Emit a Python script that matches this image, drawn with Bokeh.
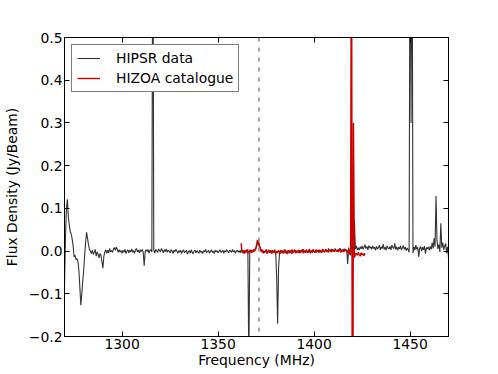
import numpy as np
from bokeh.plotting import figure
from bokeh.models import (Range1d, LinearAxis, Span, Legend, LegendItem,
                          CustomJSTickFormatter, FixedTicker, ColumnDataSource)
from bokeh.embed import file_html
from bokeh.resources import INLINE

# ---------------- data ----------------
x_ticks = [1300, 1350, 1400, 1450]
y_ticks = [-0.2, -0.1, 0.0, 0.1, 0.2, 0.3, 0.4, 0.5]

# HIPSR spectrum, sampled every 0.5 MHz from 1270.0 MHz, values in mJy/beam
hipsr_start_mhz = 1270.0
hipsr_step_mhz = 0.5
hipsr_mjy = [
    -80, 30, 100, 121, 80, 60, 46, 40, 28, 12,          # 1270.0
    -14, -10, -20, -18, -24, -45, -85, -127, -100, -70,  # 1275.0
    -45, -10, 20, 44, 30, 15, 4, 0, -6, 2,               # 1280.0
    -8, -3, 4, -12, -2, -8, -16, -6, -10, -25,           # 1285.0
    -40, -12, -2, 3, -5, 2, -4, 6, -2, 1,                # 1290.0
    -3, 5, 8, 2, 9, 4, -3, 3, -2, 1,                     # 1295.0
    -5, 2, -3, 4, -6, 0, 3, -4, 2, -2,                   # 1300.0
    5, -3, 1, -5, 3, 6, -2, 2, -4, 3,                    # 1305.0
    -1, 4, -3, -34, -2, 3, -1, 4, -5, 2,                 # 1310.0
    3, -2, 900, 2, -5, 4, 0, -3, 5, 1,                   # 1315.0
    -2, 6, 1, -4, 3, -1, 5, -3, 2, 0,                    # 1320.0
    -4, 3, 1, -6, 2, -2, 4, 0, -5, 1,                    # 1325.0
    -3, 2, -6, 0, 3, -4, -1, 2, -7, -2,                  # 1330.0
    1, -5, 3, -3, -6, 0, 2, -4, 1, -2,                   # 1335.0
    -5, 2, -3, 0, -6, 1, -2, 4, -4, -1,                  # 1340.0
    2, -5, -1, 3, -3, 0, -6, 2, -2, 1,                   # 1345.0
    -4, 0, 3, -3, -1, 2, -5, 1, -2, 3,                   # 1350.0
    -1, -4, 2, 0, -3, 4, -2, 1, -5, 0,                   # 1355.0
    2, -3, 1, -4, 3, -2, 0, -5, 2, -3,                   # 1360.0
    -1, 4, -260, 2, -3, 1, -2, 4, 0, 6,                  # 1365.0
    10, 18, 24, 15, 8, 2, -3, 1, -4, 0,                  # 1370.0
    2, -5, -1, 3, -4, 0, -6, 2, -3, -1,                  # 1375.0
    -5, -60, -170, -40, -4, 2, -3, 1, -5, 0,             # 1380.0
    3, -4, -1, 2, -5, 1, -2, 4, -3, 0,                   # 1385.0
    2, -4, 1, -2, 3, -5, 0, 2, -3, 4,                    # 1390.0
    -1, -4, 2, 0, -3, 5, -2, 1, -4, 2,                   # 1395.0
    0, -3, 4, -1, 2, -4, 3, 0, -2, 5,                    # 1400.0
    1, -3, 4, 0, -2, 6, 2, -1, 5, 0,                     # 1405.0
    3, -2, 6, 1, -1, 4, 2, 7, 0, 3,                      # 1410.0
    -1, 5, 2, 4, 1, -30, 8, -2, -10, 20,                 # 1415.0
    -15, 10, 72, 5, 12, 3, 8, 2, 10, 5,                  # 1420.0
    12, 4, 9, 15, 6, 11, 3, 13, 7, 10,                   # 1425.0
    4, 12, 6, 9, 2, 11, 5, 8, 14, 3,                     # 1430.0
    10, 6, 16, 4, 9, 2, 12, 7, 5, 11,                    # 1435.0
    3, 14, 8, 6, 18, 4, 10, 2, 9, 5,                     # 1440.0
    12, 3, 8, 13, 4, 9, 1, 7, 3, -3,                     # 1445.0
    900, 300, 900, -5, 10, 2, 14, 4, 9, -14,             # 1450.0
    6, 11, 0, 9, 3, 12, -6, 8, 5, 10,                    # 1455.0
    2, 11, 4, 20, 6, 30, 10, 129, 25, 5,                 # 1460.0
    15, -2, 65, 8, 20, 3, 12, 18, -5, 10,                # 1465.0
    -15,                                                 # 1470.0
]

# HIZOA catalogue spectrum, every 0.5 MHz from 1362.0 MHz, mJy/beam
hizoa_start_mhz = 1362.0
hizoa_step_mhz = 0.5
hizoa_mjy = [
    18, -4, 2, -6, 1, -3, 4, -5, 0, -2,                  # 1362.0
    3, -4, 1, -2, 5, 2, 14, 26, 18, 10,                  # 1367.0
    6, -2, 3, -5, 0, -3, 4, -6, 1, -2,                   # 1372.0
    -4, 2, -5, 0, -3, 3, -6, -1, -4, 2,                  # 1377.0
    -3, -6, 1, -2, -5, 3, -4, 0, -7, -1,                 # 1382.0
    2, -4, -1, -6, 1, -3, 3, -5, 0, -2,                  # 1387.0
    -4, 2, -3, -1, 4, -5, 0, -2, 3, -4,                  # 1392.0
    -1, 2, -5, 1, -2, 4, -3, 0, -4, 2,                   # 1397.0
    -1, 3, -3, 1, -4, 2, 0, -2, 4, -1,                   # 1402.0
    1, -3, 3, 0, -2, 4, 1, -1, 3, 0,                     # 1407.0
    2, -2, 4, 0, -3, 3, 1, -2, 5, 0,                     # 1412.0
    2, -4, 3, -8, 6, 1000, -1000, 300, -15, -8,          # 1417.0
    -5, -10, -3, -8, -12, -4, -9, -6, -11, -5,           # 1422.0
]

# dashed marker frequency (MHz)
marker_mhz = 1371.3

x_limits = (1270, 1470)
y_limits = (-0.2, 0.5)

# ---------------- build ----------------
hipsr_flux = np.array(hipsr_mjy, dtype=float) / 1000.0
hipsr_freq = hipsr_start_mhz + hipsr_step_mhz * np.arange(len(hipsr_flux))
hizoa_flux = np.array(hizoa_mjy, dtype=float) / 1000.0
hizoa_freq = hizoa_start_mhz + hizoa_step_mhz * np.arange(len(hizoa_flux))

FONT = "DejaVu Sans"
FS = "13.9px"

p = figure(width=490, height=372, output_backend="svg", toolbar_location=None,
           x_range=Range1d(*x_limits), y_range=Range1d(*y_limits),
           x_axis_location=None, y_axis_location=None,
           min_border_left=62, min_border_right=42, min_border_top=37,
           min_border_bottom=36, background_fill_color="white",
           border_fill_color="white")
p.grid.visible = False
p.outline_line_color = "black"
p.outline_line_width = 1

src_h = ColumnDataSource(dict(x=hipsr_freq, y=hipsr_flux))
src_z = ColumnDataSource(dict(x=hizoa_freq, y=hizoa_flux))
r1 = p.line("x", "y", source=src_h, line_color="#333333", line_width=1.1)
r2 = p.line("x", "y", source=src_z, line_color="#cc0000", line_width=1.4)

p.add_layout(Span(location=marker_mhz, dimension="height", line_color="#8c8c8c",
                  line_dash="4 6", line_width=1.6))

# axes
ymin_fmt = CustomJSTickFormatter(code="return tick.toFixed(1).replace('-', '\u2212');")
blank = CustomJSTickFormatter(code="return '';")

bottom = LinearAxis(ticker=FixedTicker(ticks=x_ticks), axis_label="Frequency (MHz)")
left = LinearAxis(ticker=FixedTicker(ticks=y_ticks), formatter=ymin_fmt,
                  axis_label="Flux Density (Jy/Beam)")
top = LinearAxis(ticker=FixedTicker(ticks=x_ticks), formatter=blank)
right = LinearAxis(ticker=FixedTicker(ticks=y_ticks), formatter=blank)
p.add_layout(bottom, "below")
p.add_layout(left, "left")
p.add_layout(top, "above")
p.add_layout(right, "right")

for ax in [bottom, left, top, right]:
    ax.major_tick_in = 5
    ax.major_tick_out = 0
    ax.minor_tick_in = 0
    ax.minor_tick_out = 0
    ax.axis_line_color = "black"
    ax.major_tick_line_color = "black"
    ax.major_label_text_font = FONT
    ax.major_label_text_font_size = FS
    ax.major_label_text_color = "black"
    ax.axis_label_text_font = FONT
    ax.axis_label_text_font_size = FS
    ax.axis_label_text_font_style = "normal"
    ax.axis_label_text_color = "black"

bottom.major_label_standoff = 2
bottom.axis_label_standoff = 0
left.major_label_standoff = 2
left.axis_label_standoff = 6
top.major_label_standoff = 0
right.major_label_standoff = 0

legend = Legend(items=[LegendItem(label="HIPSR data", renderers=[r1]),
                       LegendItem(label="HIZOA catalogue", renderers=[r2])],
                location="top_left")
legend.margin = 7
legend.padding = 5
legend.spacing = 4
legend.glyph_width = 23
legend.glyph_height = 16
legend.label_height = 16
legend.label_standoff = 16
legend.label_text_font = FONT
legend.label_text_font_size = FS
legend.label_text_color = "black"
legend.border_line_color = "black"
legend.border_line_width = 1
legend.background_fill_color = "white"
legend.background_fill_alpha = 1.0
p.add_layout(legend)

open("out.html", "w").write(file_html(p, INLINE))
